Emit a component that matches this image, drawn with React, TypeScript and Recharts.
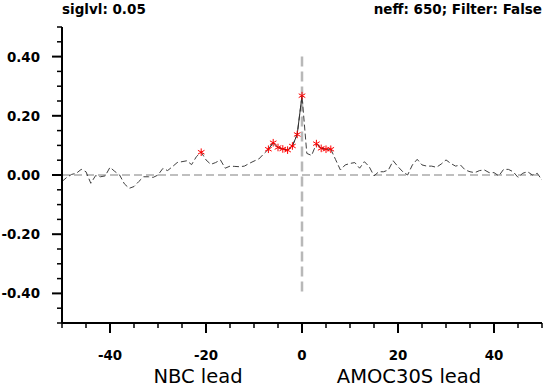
import React from 'react';
import { LineChart, Line, XAxis, YAxis, ReferenceLine } from 'recharts';

const lags = [
  -50, -49, -48, -47, -46, -45, -44, -43, -42, -41, -40, -39, -38, -37, -36, -35, -34,
  -33, -32, -31, -30, -29, -28, -27, -26, -25, -24, -23, -22, -21, -20, -19, -18, -17,
  -16, -15, -14, -13, -12, -11, -10, -9, -8, -7, -6, -5, -4, -3, -2, -1, 0, 1, 2, 3, 4,
  5, 6, 7, 8, 9, 10, 11, 12, 13, 14, 15, 16, 17, 18, 19, 20, 21, 22, 23, 24, 25, 26, 27,
  28, 29, 30, 31, 32, 33, 34, 35, 36, 37, 38, 39, 40, 41, 42, 43, 44, 45, 46, 47, 48, 49, 50,
];

const corr = [
  -0.022, -0.008, 0.002, 0.006, 0.019, 0.011, -0.028, -0.002, -0.006, -0.003,
  0.026, 0.012, 0.0, -0.03, -0.045, -0.039, -0.022, -0.006, -0.006, -0.008,
  0.0, 0.022, 0.015, 0.028, 0.042, 0.045, 0.048, 0.035, 0.062, 0.077,
  0.051, 0.036, 0.042, 0.051, 0.023, 0.03, 0.029, 0.028, 0.03, 0.039,
  0.047, 0.054, 0.071, 0.087, 0.109, 0.093, 0.088, 0.084, 0.098, 0.137,
  0.268,
  0.073, 0.066, 0.106, 0.09, 0.087, 0.087, 0.052, 0.017, 0.034, 0.039,
  0.042, 0.023, 0.045, 0.028, -0.003, 0.011, 0.011, 0.017, 0.048, 0.028,
  0.011, 0.0, 0.034, 0.053, 0.034, 0.03, 0.03, 0.026, 0.037, 0.051,
  0.039, 0.03, 0.034, 0.017, 0.011, 0.008, 0.015, 0.017, 0.008, 0.008,
  -0.003, 0.019, 0.019, 0.011, -0.008, 0.006, 0.011, 0.0, 0.006, -0.017,
];

const sigLags = [-21, -7, -6, -5, -4, -3, -2, -1, 0, 3, 4, 5, 6];

const xMajor = [-40, -20, 0, 20, 40];
const xMinor = [-50, -45, -40, -35, -30, -25, -20, -15, -10, -5, 0, 5, 10, 15, 20, 25, 30, 35, 40, 45, 50];
const yMajor = [-0.4, -0.2, 0, 0.2, 0.4];
const yMinor = [-0.5, -0.45, -0.4, -0.35, -0.3, -0.25, -0.2, -0.15, -0.1, -0.05, 0, 0.05, 0.1, 0.15, 0.2, 0.25, 0.3, 0.35, 0.4, 0.45, 0.5];

const leftTitle = 'siglvl: 0.05';
const rightTitle = 'neff: 650; Filter: False';
const xTitleLeft = 'NBC lead';
const xTitleRight = 'AMOC30S lead';

const data = lags.map((lag, i) => ({
  lag,
  r: corr[i],
  sig: sigLags.includes(lag) ? corr[i] : null,
}));

const FONT = '"DejaVu Sans", sans-serif';
const isMajor = (v: number, majors: number[]) => majors.some((m) => Math.abs(m - v) < 1e-9);

const BottomTick = (p: any) => {
  const { x, y, payload } = p;
  const major = isMajor(payload.value, xMajor);
  return (
    <g>
      <line x1={x} x2={x} y1={y} y2={y + (major ? 10 : 5)} stroke="#000" strokeWidth={major ? 2 : 1.5} />
      {major && (
        <text x={x} y={y + 37} textAnchor="middle" fontFamily={FONT} fontWeight="bold" fontSize={13.4} fill="#000">
          {String(payload.value)}
        </text>
      )}
    </g>
  );
};

const TopTick = (p: any) => {
  const { x, y, payload } = p;
  const major = isMajor(payload.value, xMajor);
  return <line x1={x} x2={x} y1={y} y2={y - (major ? 10 : 5)} stroke="#000" strokeWidth={major ? 2 : 1.5} />;
};

const LeftTick = (p: any) => {
  const { x, y, payload } = p;
  const major = isMajor(payload.value, yMajor);
  return (
    <g>
      <line x1={x - (major ? 10 : 5)} x2={x} y1={y} y2={y} stroke="#000" strokeWidth={major ? 2 : 1.5} />
      {major && (
        <text x={x - 22} y={y + 5} textAnchor="end" fontFamily={FONT} fontWeight="bold" fontSize={13.4} fill="#000">
          {Number(payload.value).toFixed(2)}
        </text>
      )}
    </g>
  );
};

const RightTick = (p: any) => {
  const { x, y, payload } = p;
  const major = isMajor(payload.value, yMajor);
  return <line x1={x} x2={x + (major ? 10 : 5)} y1={y} y2={y} stroke="#000" strokeWidth={major ? 2 : 1.5} />;
};

const Asterisk = (props: any) => {
  const { cx, cy, value, index } = props;
  if (cx == null || cy == null || value == null || Number.isNaN(cy)) return <g key={`a${index}`} />;
  const r = 3.8;
  const c = r * Math.cos(Math.PI / 6);
  const s = r * Math.sin(Math.PI / 6);
  return (
    <g key={`a${index}`} stroke="#ff0000" strokeWidth={1}>
      <line x1={cx} x2={cx} y1={cy - r} y2={cy + r} />
      <line x1={cx - c} x2={cx + c} y1={cy - s} y2={cy + s} />
      <line x1={cx - c} x2={cx + c} y1={cy + s} y2={cy - s} />
    </g>
  );
};

const axisLine = { stroke: '#000', strokeWidth: 2 };

export default function App() {
  return (
    <div style={{ position: 'absolute', left: 0, top: 0, width: 553, height: 388, background: '#fff' }}>
      <LineChart width={553} height={388} data={data} margin={{ top: 27, right: 11, bottom: 0, left: 0 }}>
        <XAxis
          xAxisId="b"
          dataKey="lag"
          type="number"
          domain={[-50, 50]}
          allowDataOverflow
          ticks={xMinor}
          interval={0}
          tickSize={0}
          tickMargin={0}
          tickLine={false}
          axisLine={axisLine}
          tick={<BottomTick />}
          height={65}
        />
        <XAxis
          xAxisId="t"
          orientation="top"
          type="number"
          domain={[-50, 50]}
          allowDataOverflow
          ticks={xMinor}
          interval={0}
          tickSize={0}
          tickMargin={0}
          tickLine={false}
          axisLine={axisLine}
          tick={<TopTick />}
          height={0}
        />
        <YAxis
          yAxisId="l"
          type="number"
          domain={[-0.5, 0.5]}
          allowDataOverflow
          ticks={yMinor}
          interval={0}
          tickSize={0}
          tickMargin={0}
          tickLine={false}
          axisLine={axisLine}
          tick={<LeftTick />}
          width={62}
        />
        <YAxis
          yAxisId="r"
          orientation="right"
          type="number"
          domain={[-0.5, 0.5]}
          allowDataOverflow
          ticks={yMinor}
          interval={0}
          tickSize={0}
          tickMargin={0}
          tickLine={false}
          axisLine={axisLine}
          tick={<RightTick />}
          width={0}
        />
        <ReferenceLine xAxisId="b" yAxisId="l" y={0} stroke="#808080" strokeWidth={1.2} strokeDasharray="8 4" />
        <ReferenceLine
          xAxisId="b"
          yAxisId="l"
          segment={[{ x: 0, y: 0.4 }, { x: 0, y: -0.4 }]}
          stroke="#b8b8b8"
          strokeWidth={2.5}
          strokeDasharray="10 5"
        />
        <Line
          xAxisId="b"
          yAxisId="l"
          dataKey="r"
          type="linear"
          stroke="#404040"
          strokeWidth={1}
          strokeDasharray="6 3"
          dot={false}
          isAnimationActive={false}
        />
        <Line
          xAxisId="b"
          yAxisId="l"
          dataKey="sig"
          type="linear"
          stroke="#303030"
          strokeWidth={1}
          connectNulls={false}
          dot={Asterisk}
          activeDot={false}
          isAnimationActive={false}
        />
      </LineChart>
      <svg width={553} height={388} style={{ position: 'absolute', left: 0, top: 0, pointerEvents: 'none' }}>
        <text x={62} y={14} fontFamily={FONT} fontWeight="bold" fontSize={13.5} fill="#000">{leftTitle}</text>
        <text x={542} y={14} textAnchor="end" fontFamily={FONT} fontWeight="bold" fontSize={13.5} fill="#000">{rightTitle}</text>
        <text x={198} y={383} textAnchor="middle" fontFamily={FONT} fontSize={19.5} fill="#000">{xTitleLeft}</text>
        <text x={409} y={383} textAnchor="middle" fontFamily={FONT} fontSize={19.5} fill="#000">{xTitleRight}</text>
      </svg>
    </div>
  );
}
